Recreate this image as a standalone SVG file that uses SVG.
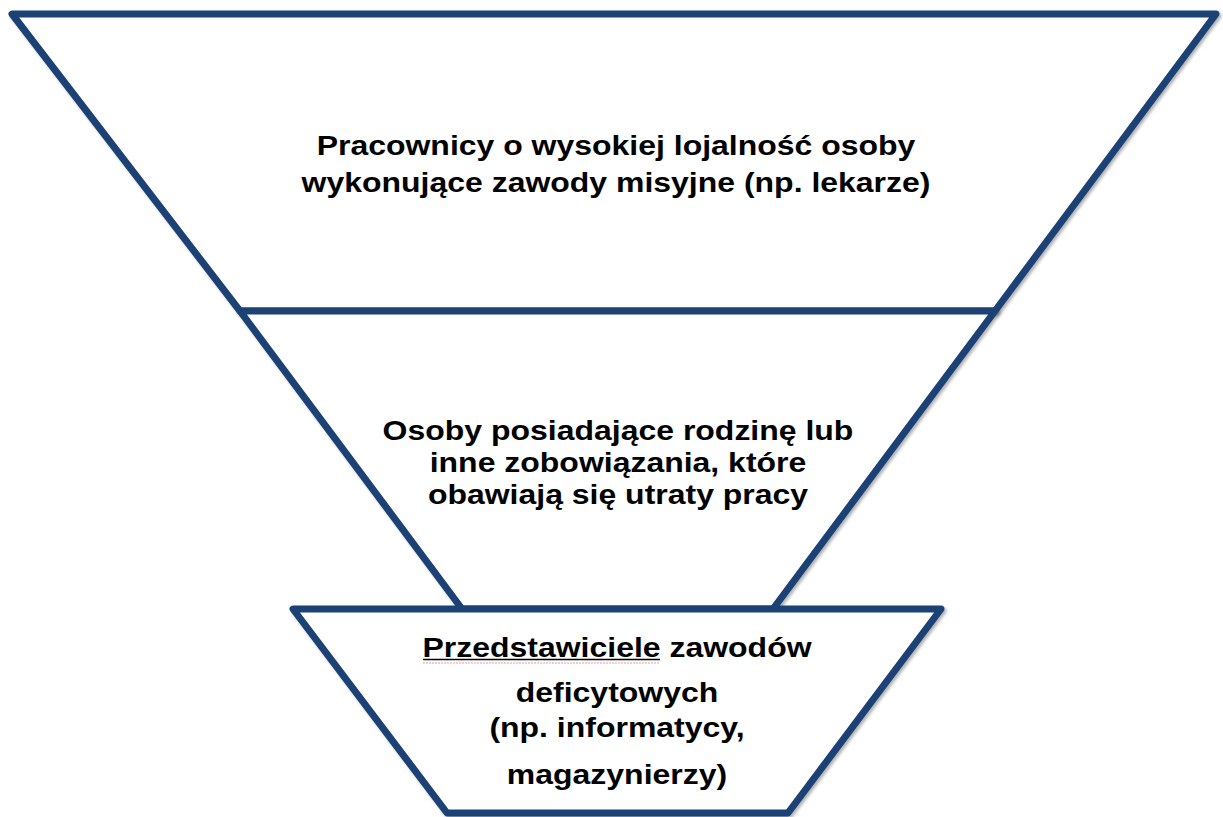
<svg xmlns="http://www.w3.org/2000/svg" width="1223" height="817" viewBox="0 0 1223 817">
  <defs>
    <filter id="sh" x="-5%" y="-5%" width="110%" height="110%">
      <feDropShadow dx="2" dy="2" stdDeviation="1.5" flood-color="#000" flood-opacity="0.3"/>
    </filter>
    <style>
      .tz { fill: #ffffff; stroke: #1c4274; stroke-width: 7; stroke-linejoin: round; filter: url(#sh); }
      .lb { font-family: "Liberation Sans", Arial, sans-serif; font-weight: bold; font-size: 28px; fill: #000; text-anchor: middle; }
    </style>
  </defs>
  <rect width="1223" height="817" fill="#ffffff"/>
  <g id="connectors"></g>
  <g id="level1">
    <polygon class="tz" points="12,14 1216,14 995,311 240,311"/>
    <g transform="translate(616,0) scale(1.142,1)">
      <text class="lb" x="0" y="155">Pracownicy o wysokiej lojalność osoby</text>
      <text class="lb" x="0" y="192">wykonujące zawody misyjne (np. lekarze)</text>
    </g>
  </g>
  <g id="level2">
    <polygon class="tz" points="240,311 995,311 773,609 462,609"/>
    <g transform="translate(618,0) scale(1.142,1)">
      <text class="lb" x="0" y="440">Osoby posiadające rodzinę lub</text>
      <text class="lb" x="0" y="472">inne zobowiązania, które</text>
      <text class="lb" x="0" y="504">obawiają się utraty pracy</text>
    </g>
  </g>
  <g id="level3">
    <polygon class="tz" points="293,609 941,609 788,813 447,813"/>
    <g transform="translate(617,0) scale(1.142,1)">
      <text class="lb" x="0" y="657">Przedstawiciele zawodów</text>
      <text class="lb" x="0" y="702">deficytowych</text>
      <text class="lb" x="0" y="737">(np. informatycy,</text>
      <text class="lb" x="0" y="784">magazynierzy)</text>
    </g>
    <line x1="423" y1="659.5" x2="660" y2="659.5" stroke="#000" stroke-width="1.5"/>
    <line x1="423" y1="663" x2="660" y2="663" stroke="#e08080" stroke-width="1" stroke-dasharray="2,1" opacity="0.8"/>
  </g>
</svg>
